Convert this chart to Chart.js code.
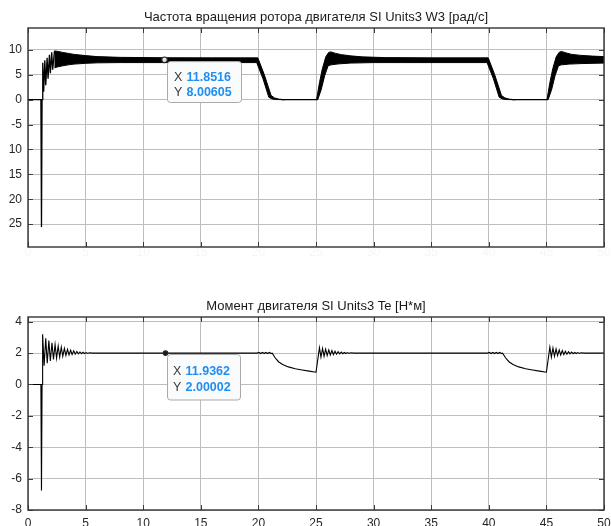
<!DOCTYPE html>
<html>
<head>
<meta charset="utf-8">
<script src="https://cdn.jsdelivr.net/npm/chart.js@4.4.1/dist/chart.umd.min.js"></script>
<style>
  html, body { margin: 0; padding: 0; background: #fff; overflow: hidden; width: 611px; height: 526px; }
  canvas { position: absolute; left: 0; }
  #chart_W3 { top: 0; }
  #chart_Te { top: 280px; }
</style>
</head>
<body>
<canvas id="chart_W3" width="611" height="262"></canvas>
<canvas id="chart_Te" width="611" height="262"></canvas>
<script>
"use strict";

// ---- values ----

const xTicks = [0, 5, 10, 15, 20, 25, 30, 35, 40, 45, 50];
const wTicks = [-25, -20, -15, -10, -5, 0, 5, 10];
const teTicks = [-8, -6, -4, -2, 0, 2, 4];

const wTitle = 'Частота вращения ротора двигателя SI Units3 W3 [рад/с]';
const teTitle = 'Момент двигателя SI Units3 Te [Н*м]';

// W3, thin part of the trace: start transient and the two rests at 0  [t, value]
const wLine = [
  [0, 0], [1.12, 0], [1.17, -25.6], [1.22, 0], [1.28, 7.4], [1.36, 1.6], [1.46, 7.9],
  [1.54, 2.9], [1.66, 8.4], [1.74, 4.2], [1.86, 9.0], [1.94, 5.3], [2.06, 9.5], [2.14, 6.0],
  [2.30, 9.8], [2.31, null],
  [22.0, 0], [25.15, 0], [25.2, null],
  [42.0, 0], [45.15, 0]
];

// W3, fast ripple band: upper and lower edge  [t, value]
const wBand1Up = [
  [2.3, 9.8], [2.6, 9.7], [3, 9.5], [3.5, 9.3], [4, 9.1], [5, 8.85], [6, 8.65], [8, 8.5],
  [12, 8.42], [16, 8.4], [19.95, 8.4], [20.5, 5.1], [21.1, 0.85], [21.4, 0.35], [21.8, 0.1], [22.3, 0]
];
const wBand1Lo = [
  [2.3, 6.4], [2.6, 6.6], [3, 6.8], [3.5, 7.0], [4, 7.15], [5, 7.3], [6, 7.4], [8, 7.45],
  [19.85, 7.45], [20.4, 4.2], [20.9, 0.5], [21.2, 0.12], [21.6, 0.02], [22.3, 0]
];
const wBand2Up = [
  [25.05, 0], [25.3, 3.4], [25.55, 6.2], [25.85, 8.6], [26.1, 9.5], [26.3, 9.6], [26.7, 9.3],
  [27.2, 9.05], [28, 8.8], [29, 8.6], [31, 8.45], [35, 8.4], [39.95, 8.4], [40.5, 5.1],
  [41.1, 0.85], [41.4, 0.35], [41.8, 0.1], [42.3, 0]
];
const wBand2Lo = [
  [25.15, 0], [25.45, 2.0], [25.75, 4.8], [26.05, 6.8], [26.3, 7.0], [27, 7.2], [28, 7.35],
  [30, 7.45], [39.85, 7.45], [40.4, 4.2], [40.9, 0.5], [41.2, 0.12], [41.6, 0.02], [42.3, 0]
];
const wBand3Up = [
  [45.05, 0], [45.3, 3.4], [45.55, 6.2], [45.85, 8.6], [46.1, 9.5], [46.3, 9.7], [46.7, 9.4],
  [47.2, 9.1], [48, 8.9], [49, 8.75], [50, 8.65]
];
const wBand3Lo = [
  [45.15, 0], [45.45, 2.0], [45.75, 4.8], [46.05, 6.8], [46.3, 7.0], [47, 7.15], [48, 7.25], [50, 7.35]
];

// Te trace  [t, value]
const teTrace = [
  [0, 0], [1.12, 0], [1.17, -6.75], [1.22, 0], [1.27, 3.2], [1.40, 1.2], [1.54, 2.95], [1.67, 1.35],
  [1.81, 2.8], [1.94, 1.5], [2.08, 2.65], [2.21, 1.6], [2.35, 2.55], [2.48, 1.68], [2.62, 2.45],
  [2.75, 1.75], [2.89, 2.38], [3.02, 1.8], [3.16, 2.3], [3.29, 1.85], [3.43, 2.24], [3.56, 1.88],
  [3.70, 2.18], [3.83, 1.91], [3.97, 2.14], [4.10, 1.93], [4.24, 2.1], [4.37, 1.95], [4.51, 2.07],
  [4.64, 1.96], [4.78, 2.05], [4.91, 1.97], [5.05, 2.03], [5.18, 1.98], [5.32, 2.02], [5.6, 2.0],
  [19.9, 2.0], [20.05, 2.04], [20.2, 1.97], [20.35, 2.04], [20.5, 1.97], [20.65, 2.04], [20.8, 1.97],
  [20.95, 2.04], [21.1, 1.97], [21.2, 2.0],
  [21.45, 1.7], [21.75, 1.45], [22.1, 1.27], [22.6, 1.12], [23.2, 1.0], [23.8, 0.92], [24.4, 0.85], [25.0, 0.78],
  [25.3, 2.35], [25.43, 1.75], [25.57, 2.3], [25.7, 1.8], [25.84, 2.25], [25.97, 1.84], [26.11, 2.2],
  [26.24, 1.88], [26.38, 2.16], [26.51, 1.91], [26.65, 2.12], [26.78, 1.93], [26.92, 2.09], [27.05, 1.95],
  [27.19, 2.06], [27.32, 1.96], [27.46, 2.04], [27.59, 1.97], [27.73, 2.03], [27.86, 1.98], [28.0, 2.02], [28.3, 2.0],
  [39.9, 2.0], [40.05, 2.04], [40.2, 1.97], [40.35, 2.04], [40.5, 1.97], [40.65, 2.04], [40.8, 1.97],
  [40.95, 2.04], [41.1, 1.97], [41.2, 2.0],
  [41.45, 1.7], [41.75, 1.45], [42.1, 1.27], [42.6, 1.12], [43.2, 1.0], [43.8, 0.92], [44.4, 0.85], [45.0, 0.78],
  [45.3, 2.38], [45.43, 1.74], [45.57, 2.32], [45.7, 1.8], [45.84, 2.26], [45.97, 1.84], [46.11, 2.2],
  [46.24, 1.88], [46.38, 2.16], [46.51, 1.91], [46.65, 2.12], [46.78, 1.93], [46.92, 2.09], [47.05, 1.95],
  [47.19, 2.06], [47.32, 1.96], [47.46, 2.04], [47.59, 1.97], [47.73, 2.03], [47.86, 1.98], [48.0, 2.02],
  [48.3, 2.0], [50, 2.0]
];

// data tips shown on the figure  [x, y]
const wTip = [11.8516, 8.00605];
const teTip = [11.9362, 2.00002];


const _FONT = '"Liberation Sans", Arial, sans-serif';

function _pts(_pairs) {
  return _pairs.map(function(_p) { return {x: _p[0], y: _p[1]}; });
}

// closed outline of a band: upper edge forward, lower edge back
function _bandShape(_up, _lo) {
  return _pts(_up.concat(_lo.slice().reverse()));
}


// axes box and inward tick marks (scope style)
const _axesBox = {
  id: 'axesBox',
  afterDatasetsDraw(chart) {
    const _ctx = chart.ctx;
    const _a = chart.chartArea;
    const _x = chart.scales.x;
    const _y = chart.scales.y;
    _ctx.save();
    _ctx.strokeStyle = '#3c3c3c';
    _ctx.lineWidth = 1;
    _ctx.beginPath();
    _x.ticks.forEach(function(_t) {
      let _px = Math.round(_x.getPixelForValue(_t.value)) + 0.5;
      _ctx.moveTo(_px, _a.top); _ctx.lineTo(_px, _a.top + 5);
      _ctx.moveTo(_px, _a.bottom); _ctx.lineTo(_px, _a.bottom - 5);
    });
    _y.ticks.forEach(function(_t) {
      let _py = Math.round(_y.getPixelForValue(_t.value)) + 0.5;
      _ctx.moveTo(_a.left, _py); _ctx.lineTo(_a.left + 5, _py);
      _ctx.moveTo(_a.right, _py); _ctx.lineTo(_a.right - 5, _py);
    });
    _ctx.stroke();
    _ctx.lineWidth = 1.4;
    _ctx.strokeStyle = '#333';
    _ctx.strokeRect(_a.left, _a.top, _a.right - _a.left, _a.bottom - _a.top);
    _ctx.restore();
  }
};

// title centred over the plot area
const _axesTitle = {
  id: 'axesTitle',
  afterDraw(chart, args, opts) {
    const _ctx = chart.ctx;
    const _a = chart.chartArea;
    _ctx.save();
    _ctx.font = opts.size + 'px ' + _FONT;
    _ctx.fillStyle = '#1a1a1a';
    _ctx.textAlign = 'center';
    _ctx.textBaseline = 'middle';
    _ctx.fillText(opts.text, (_a.left + _a.right) / 2, _a.top - opts.dy);
    _ctx.restore();
  }
};

// data tip: marker plus the X / Y box
const _dataTip = {
  id: 'dataTip',
  afterDraw(chart, args, opts) {
    const _ctx = chart.ctx;
    const _px = chart.scales.x.getPixelForValue(opts.value[0]);
    const _py = chart.scales.y.getPixelForValue(opts.value[1]);
    const _bx = Math.round(_px + opts.box[0]) + 0.5;
    const _by = Math.round(_py + opts.box[1]) + 0.5;
    const _bw = opts.box[2], _bh = opts.box[3], _r = 3;

    _ctx.save();
    _ctx.beginPath();
    _ctx.moveTo(_bx + _r, _by);
    _ctx.arcTo(_bx + _bw, _by, _bx + _bw, _by + _bh, _r);
    _ctx.arcTo(_bx + _bw, _by + _bh, _bx, _by + _bh, _r);
    _ctx.arcTo(_bx, _by + _bh, _bx, _by, _r);
    _ctx.arcTo(_bx, _by, _bx + _bw, _by, _r);
    _ctx.closePath();
    _ctx.fillStyle = 'rgba(250,251,253,0.96)';
    _ctx.fill();
    _ctx.strokeStyle = '#a9a9a9';
    _ctx.lineWidth = 1;
    _ctx.stroke();

    _ctx.beginPath();
    _ctx.arc(_px, _py, opts.markerR, 0, Math.PI * 2);
    _ctx.fillStyle = opts.markerFill;
    _ctx.fill();
    _ctx.strokeStyle = '#262626';
    _ctx.lineWidth = 1.2;
    _ctx.stroke();

    _ctx.textBaseline = 'middle';
    _ctx.textAlign = 'left';
    ['X', 'Y'].forEach(function(_lbl, _i) {
      let _ty = _by + opts.rows[_i];
      _ctx.font = '12.5px ' + _FONT;
      _ctx.fillStyle = '#3a3a3a';
      _ctx.fillText(_lbl, _bx + opts.textDx, _ty);
      _ctx.font = 'bold 12.5px ' + _FONT;
      _ctx.fillStyle = '#1f8ef1';
      _ctx.fillText(String(opts.value[_i]), _bx + opts.textDx + 12.5, _ty);
    });
    _ctx.restore();
  }
};


function _make_chart(_canvasId, _options) {

  const _yTicks = _options.yTicks;

  return new Chart(document.getElementById(_canvasId), {
    type: 'line',
    data: { datasets: _options.datasets },
    plugins: [_axesBox, _axesTitle, _dataTip],
    options: {
      responsive: false,
      animation: false,
      devicePixelRatio: 1,
      events: [],
      layout: { padding: { top: _options.padTop, right: 7, left: 0, bottom: 0 } },
      elements: { point: { radius: 0 }, line: { tension: 0 } },
      plugins: {
        legend: { display: false },
        tooltip: { enabled: false },
        axesTitle: { text: _options.title, size: 13, dy: 11 },
        dataTip: _options.tip
      },
      scales: {
        x: {
          type: 'linear',
          min: 0,
          max: 50,
          afterBuildTicks: function(_s) { _s.ticks = xTicks.map(function(v) { return {value: v}; }); },
          afterFit: function(_s) {
            _s.height = _options.xAxisH;
            _s.paddingLeft = 0;
            _s.paddingRight = 0;
          },
          grid: { color: '#bdbdbd', lineWidth: 1, drawTicks: false },
          border: { display: false },
          ticks: {
            padding: _options.xPad,
            maxRotation: 0,
            color: _options.xColor,
            font: { family: _FONT, size: 12 }
          }
        },
        y: {
          type: 'linear',
          min: _options.yMin,
          max: _options.yMax,
          afterBuildTicks: function(_s) { _s.ticks = _yTicks.map(function(v) { return {value: v}; }); },
          afterFit: function(_s) { _s.width = 28; },
          grid: { color: '#bdbdbd', lineWidth: 1, drawTicks: false },
          border: { display: false },
          ticks: {
            padding: 6,
            color: '#262626',
            font: { family: _FONT, size: 12 },
            callback: _options.yLabel
          }
        }
      }
    }
  });

} // EndOf _make_chart


function _band(_up, _lo) {
  return {
    data: _bandShape(_up, _lo),
    borderColor: '#000',
    backgroundColor: '#000',
    borderWidth: 1,
    fill: 'shape',
    pointRadius: 0
  };
}

// Top: rotor speed W3
_make_chart('chart_W3', {
  title: wTitle,
  padTop: 28,
  xAxisH: 15,
  xPad: -2,
  xColor: 'rgba(0,0,0,0.045)',
  yMin: -29.6,
  yMax: 14.4,
  yTicks: wTicks,
  // the figure shows the negative labels below -5 with the minus cut away
  yLabel: function(v) { return v <= -10 ? String(-v) : String(v); },
  tip: { value: wTip, box: [2.5, 1, 74, 41], rows: [15.6, 31], textDx: 6.5, markerR: 2.8, markerFill: '#e6e6d6' },
  datasets: [
    _band(wBand1Up, wBand1Lo),
    _band(wBand2Up, wBand2Lo),
    _band(wBand3Up, wBand3Lo),
    { data: _pts(wLine), borderColor: '#000', borderWidth: 1.3, fill: false, spanGaps: false, pointRadius: 0 }
  ]
});

// Bottom: motor torque Te
_make_chart('chart_Te', {
  title: teTitle,
  padTop: 37,
  xAxisH: 32,
  xPad: 6,
  xColor: '#262626',
  yMin: -8,
  yMax: 4.3,
  yTicks: teTicks,
  yLabel: function(v) { return String(v); },
  tip: { value: teTip, box: [1.5, 1, 73, 45.5], rows: [16.7, 32.7], textDx: 5.5, markerR: 2.2, markerFill: '#1a1a1a' },
  datasets: [
    { data: _pts(teTrace), borderColor: '#000', borderWidth: 1.1, fill: false, pointRadius: 0 }
  ]
});

</script>
</body>
</html>
